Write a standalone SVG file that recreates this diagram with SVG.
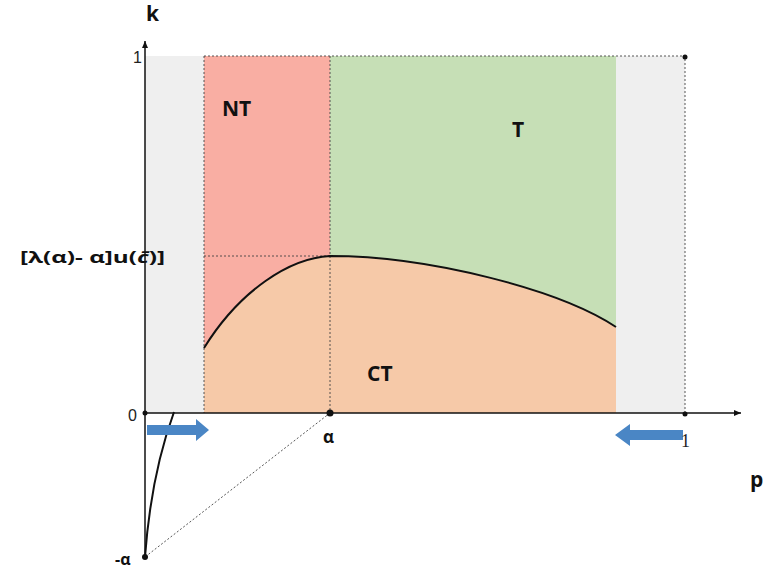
<svg xmlns="http://www.w3.org/2000/svg" width="775" height="572" viewBox="0 0 775 572">
<style>
.lbl{font-family:"Open Sans","Liberation Sans",Arial,sans-serif;font-weight:bold;fill:#111}
.dot{stroke:#444;stroke-width:0.9;stroke-dasharray:2,2;fill:none}
.ax{stroke:#111;stroke-width:1.5;fill:none}
</style>
<defs>
<marker id="ah" markerWidth="8" markerHeight="8" refX="7" refY="4" orient="auto" markerUnits="userSpaceOnUse"><path d="M0,1 L7,4 L0,7 Z" fill="#111"/></marker>
</defs>
<rect width="775" height="572" fill="#fff"/>
<g id="regions">
<rect x="145" y="56" width="59" height="357" fill="#efefef"/>
<rect x="616" y="56" width="69" height="357" fill="#efefef"/>
<rect x="204" y="56" width="126" height="357" fill="#f9aea3"/>
<rect x="330" y="56" width="286" height="357" fill="#c6dfb6"/>
<path d="M204,413 L204,348 C240,290 290,258 330,256 C430,256 560,290 616,327 L616,413 Z" fill="#f6c9a8"/>
</g>
<g id="connectors">
<path class="dot" d="M204,56 H685 V413"/>
<path class="dot" d="M204,56 V413"/>
<path class="dot" d="M330,56 V413"/>
<path class="dot" d="M204,256 H330"/>
<path class="dot" d="M330,413 L145,557"/>
<path d="M204,348 C240,290 290,258 330,256 C430,256 560,290 616,327" stroke="#111" stroke-width="2" fill="none"/>
<path d="M145,557 Q151,475 174,412" stroke="#111" stroke-width="2" fill="none"/>
<line class="ax" x1="145" y1="557" x2="145" y2="41" marker-end="url(#ah)"/>
<line class="ax" x1="145" y1="413" x2="741" y2="413" marker-end="url(#ah)"/>
<circle cx="330" cy="413" r="3.5" fill="#111"/>
<circle cx="145" cy="413" r="2.5" fill="#111"/>
<circle cx="145" cy="557" r="3" fill="#111"/>
<circle cx="685" cy="414" r="2.5" fill="#111"/>
<circle cx="685" cy="57" r="2.5" fill="#111"/>
<path d="M147,425 H196 V419 L209,430 L196,441 V435 H147 Z" fill="#4a86c5"/>
<path d="M683,430 H630 V424 L615,435 L630,446 V440 H683 Z" fill="#4a86c5"/>
</g>
<g id="labels">
<text class="lbl" x="146" y="21" font-size="21">k</text>
<text x="133" y="63" font-family="Liberation Sans,Arial,sans-serif" font-size="16" fill="#222">1</text>
<text x="128" y="421" font-family="Liberation Sans,Arial,sans-serif" font-size="16" fill="#222">0</text>
<text class="lbl" x="323" y="443" font-size="17">α</text>
<text x="681" y="447" font-family="Liberation Serif,serif" font-size="18" fill="#222">1</text>
<text class="lbl" x="750" y="487" font-size="21">p</text>
<text class="lbl" x="115" y="565" font-size="16">-α</text>
<text class="lbl" x="20" y="263" font-size="16" textLength="145" lengthAdjust="spacingAndGlyphs">[λ(α)- α]u(<tspan font-style="italic">c̄</tspan>)]</text>
<text class="lbl" x="222" y="116" font-size="21">NT</text>
<text class="lbl" x="512" y="137" font-size="21">T</text>
<text class="lbl" x="367" y="381" font-size="21">CT</text>
</g>
</svg>
